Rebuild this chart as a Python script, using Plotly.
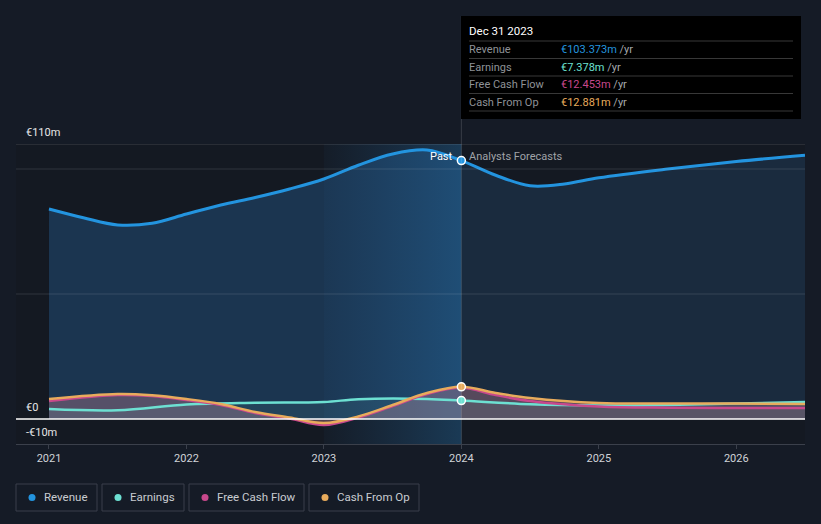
import plotly.graph_objects as go

# ---------------- data (€m) ----------------
rev_x = [2021.0, 2021.25, 2021.5, 2021.75, 2022.0, 2022.25, 2022.5, 2022.75, 2023.0,
         2023.25, 2023.5, 2023.75, 2024.0, 2024.25, 2024.5, 2024.75, 2025.0, 2025.5, 2026.0, 2026.5]
rev_y = [84.0, 80.5, 77.6, 78.3, 82.0, 85.6, 88.6, 92.0, 96.0,
         101.5, 106.0, 107.6, 103.373, 97.5, 93.3, 94.0, 96.5, 100.0, 103.0, 105.5]

earn_x = [2021.0, 2021.5, 2022.0, 2022.5, 2023.0, 2023.25, 2023.75, 2024.0, 2024.5, 2025.0, 2025.5, 2026.0, 2026.5]
earn_y = [4.0, 3.5, 5.8, 6.5, 6.8, 7.9, 8.0, 7.378, 5.9, 5.4, 5.6, 6.2, 6.8]

fcf_x = [2021.0, 2021.5, 2021.75, 2022.0, 2022.25, 2022.5, 2022.75, 2023.0, 2023.25, 2023.5, 2023.75,
         2024.0, 2024.25, 2024.5, 2025.0, 2025.5, 2026.0, 2026.5]
fcf_y = [7.2, 9.6, 9.2, 7.6, 5.6, 2.4, 0.2, -2.4, 0.6, 5.2, 10.0,
         12.453, 9.6, 7.2, 5.0, 4.5, 4.4, 4.4]

cfo_x = [2021.0, 2021.5, 2021.75, 2022.0, 2022.25, 2022.5, 2022.75, 2023.0, 2023.25, 2023.5, 2023.75,
         2024.0, 2024.25, 2024.5, 2025.0, 2025.5, 2026.0, 2026.5]
cfo_y = [8.0, 10.0, 9.5, 8.0, 6.0, 2.8, 0.6, -1.6, 1.0, 5.6, 10.4,
         12.881, 10.4, 8.4, 6.4, 6.2, 6.2, 6.0]

year_ticks = [2021, 2022, 2023, 2024, 2025, 2026]
year_labels = ["2021", "2022", "2023", "2024", "2025", "2026"]

tooltip_date = "Dec 31 2023"
tooltip_rows = [("Revenue", "€103.373m"), ("Earnings", "€7.378m"),
                ("Free Cash Flow", "€12.453m"), ("Cash From Op", "€12.881m")]

# ---------------- styles ----------------
BG = "#151b26"
C_REV = "#2394df"
C_EARN = "#6de0d2"
C_FCF = "#c8488c"
C_CFO = "#e8ab5c"
FONT = "Roboto"
CUT = 2024.0
X0, X1 = 2020.76, 2026.5

fig = go.Figure()

def split(xs, ys):
    past = [(x, y) for x, y in zip(xs, ys) if x <= CUT]
    fut = [(x, y) for x, y in zip(xs, ys) if x >= CUT]
    return [p[0] for p in past], [p[1] for p in past], [p[0] for p in fut], [p[1] for p in fut]

# revenue areas
rpx, rpy, rfx, rfy = split(rev_x, rev_y)
fig.add_trace(go.Scatter(x=rpx, y=rpy, mode="none", fill="tozeroy",
                         fillcolor="#1b3550", line_shape="spline", hoverinfo="skip"))
fig.add_trace(go.Scatter(x=rfx, y=rfy, mode="none", fill="tozeroy",
                         fillcolor="#1a2b3e", line_shape="spline", hoverinfo="skip"))

# highlight band last year before cut
fig.add_trace(go.Scatter(x=[2023, CUT, CUT, 2023, 2023], y=[-10, -10, 110, 110, -10],
                         mode="none", fill="toself",
                         fillgradient=dict(type="horizontal",
                                           colorscale=[[0, "rgba(40,120,190,0.04)"],
                                                       [1, "rgba(40,135,205,0.30)"]]),
                         hoverinfo="skip"))

# other series fills
for xs, ys, fc in [(cfo_x, cfo_y, "rgba(200,130,150,0.28)"),
                   (fcf_x, fcf_y, "rgba(170,120,140,0.12)"),
                   (earn_x, earn_y, "rgba(110,200,200,0.10)")]:
    fig.add_trace(go.Scatter(x=xs, y=ys, mode="none", fill="tozeroy", fillcolor=fc,
                             line_shape="spline", hoverinfo="skip"))

# lines
fig.add_trace(go.Scatter(x=earn_x, y=earn_y, mode="lines", line=dict(color=C_EARN, width=2.5, shape="spline"),
                         hoverinfo="skip"))
fig.add_trace(go.Scatter(x=fcf_x, y=fcf_y, mode="lines", line=dict(color=C_FCF, width=2.5, shape="spline"),
                         hoverinfo="skip"))
fig.add_trace(go.Scatter(x=cfo_x, y=cfo_y, mode="lines", line=dict(color=C_CFO, width=2.5, shape="spline"),
                         hoverinfo="skip"))
fig.add_trace(go.Scatter(x=rev_x, y=rev_y, mode="lines", line=dict(color=C_REV, width=3, shape="spline"),
                         hoverinfo="skip"))

# markers at the cut
cut_idx_rev = rev_x.index(CUT)
fig.add_trace(go.Scatter(x=[CUT], y=[earn_y[earn_x.index(CUT)]], mode="markers",
                         marker=dict(size=8, color=C_EARN, line=dict(color="white", width=1.5)), hoverinfo="skip"))
fig.add_trace(go.Scatter(x=[CUT], y=[cfo_y[cfo_x.index(CUT)]], mode="markers",
                         marker=dict(size=8, color=C_CFO, line=dict(color="white", width=1.5)), hoverinfo="skip"))
fig.add_trace(go.Scatter(x=[CUT], y=[rev_y[cut_idx_rev]], mode="markers",
                         marker=dict(size=8, color=C_REV, line=dict(color="white", width=1.5)), hoverinfo="skip"))


def py(pix):
    return (444 - pix) / 300


def px(pix):
    return (pix - 16) / 789


shapes = []
# grid lines
for v, col in [(110, "rgba(255,255,255,0.18)"), (100, "rgba(255,255,255,0.12)"), (50, "rgba(255,255,255,0.12)")]:
    shapes.append(dict(type="line", xref="paper", x0=0, x1=1, yref="y", y0=v, y1=v,
                       line=dict(color=col, width=1), layer="above"))
shapes.append(dict(type="line", xref="paper", x0=0, x1=1, yref="y", y0=0, y1=0,
                   line=dict(color="white", width=1.5), layer="above"))
# vertical cut line
shapes.append(dict(type="line", xref="x", x0=CUT, x1=CUT, yref="paper", y0=0, y1=py(16),
                   line=dict(color="rgba(255,255,255,0.15)", width=1), layer="above"))
# tooltip box
shapes.append(dict(type="rect", xref="paper", x0=px(461), x1=px(801), yref="paper", y0=py(119), y1=py(16),
                   fillcolor="#000000", line=dict(width=0), layer="above"))

annotations = []
# y labels
for v, t in [(110, "€110m"), (0, "€0"), (-10, "-€10m")]:
    annotations.append(dict(xref="paper", x=px(24), yref="y", y=v, text=t, showarrow=False,
                            xanchor="left", yanchor="bottom", yshift=3,
                            font=dict(color="#e6e6e6", size=11, family=FONT)))
annotations.append(dict(xref="x", x=CUT, yref="y", y=rev_y[cut_idx_rev], text="Past", showarrow=False,
                        xanchor="right", xshift=-6, yanchor="middle", yshift=4,
                        font=dict(color="#ffffff", size=11, family=FONT)))
annotations.append(dict(xref="x", x=CUT, yref="y", y=rev_y[cut_idx_rev], text="Analysts Forecasts", showarrow=False,
                        xanchor="left", xshift=6, yanchor="middle", yshift=4,
                        font=dict(color="#a0a3a8", size=11, family=FONT)))

annotations.append(dict(xref="paper", x=px(467), yref="paper", y=py(31), text=tooltip_date, showarrow=False,
                        xanchor="left", yanchor="middle",
                        font=dict(color="#ffffff", size=11.5, family=FONT)))
sep_y = [41, 58.5, 76, 93.5, 111]
for s in sep_y:
    shapes.append(dict(type="line", xref="paper", x0=px(469), x1=px(793), yref="paper", y0=py(s), y1=py(s),
                       line=dict(color="rgba(255,255,255,0.22)", width=1), layer="above"))
row_cols = [C_REV, C_EARN, C_FCF, C_CFO]
for i, ((lab, val), col) in enumerate(zip(tooltip_rows, row_cols)):
    yc = py(49.5 + i * 17.5)
    annotations.append(dict(xref="paper", x=px(467), yref="paper", y=yc, text=lab, showarrow=False,
                            xanchor="left", yanchor="middle",
                            font=dict(color="#8f9297", size=11, family=FONT)))
    annotations.append(dict(xref="paper", x=px(559), yref="paper", y=yc,
                            text=f"<span style='color:{col}'>{val}</span> /yr", showarrow=False,
                            xanchor="left", yanchor="middle",
                            font=dict(color="#a6a9ad", size=11, family=FONT)))

# legend boxes
legend_items = [("Revenue", C_REV, 16, 97), ("Earnings", C_EARN, 102, 184),
                ("Free Cash Flow", C_FCF, 189, 304), ("Cash From Op", C_CFO, 309, 419)]
for lab, col, a, b in legend_items:
    shapes.append(dict(type="rect", xref="paper", x0=px(a), x1=px(b), yref="paper", y0=py(511), y1=py(484),
                       fillcolor="rgba(0,0,0,0)", line=dict(color="#3a3f4a", width=1)))
    shapes.append(dict(type="circle", xref="paper", x0=px(a + 12.5), x1=px(a + 19.5), yref="paper",
                       y0=py(501), y1=py(494), fillcolor=col, line=dict(width=0)))
    annotations.append(dict(xref="paper", x=px(a + 26), yref="paper", y=py(497.5), text=lab, showarrow=False,
                            xanchor="left", yanchor="middle",
                            font=dict(color="#c9ccd1", size=11.5, family=FONT)))

fig.update_layout(
    width=821, height=524,
    margin=dict(l=16, r=16, t=144, b=80),
    paper_bgcolor=BG, plot_bgcolor="#141922",
    showlegend=False,
    shapes=shapes, annotations=annotations,
    xaxis=dict(range=[X0, X1], showgrid=False, zeroline=False, tickvals=year_ticks, ticktext=year_labels,
               tickfont=dict(color="#d0d3d8", size=11, family=FONT), ticks="outside", ticklen=4,
               tickcolor="#3b404b", showline=True, linecolor="#3b404b", linewidth=1, fixedrange=True),
    yaxis=dict(range=[-10, 110], showgrid=False, zeroline=False, showticklabels=False, fixedrange=True),
    font=dict(family=FONT),
)

fig.write_html("out.html", config={"displayModeBar": False},
               post_script="document.body.style.margin='0';document.body.style.background='#151b26';"
                           "document.body.style.overflow='hidden';")
